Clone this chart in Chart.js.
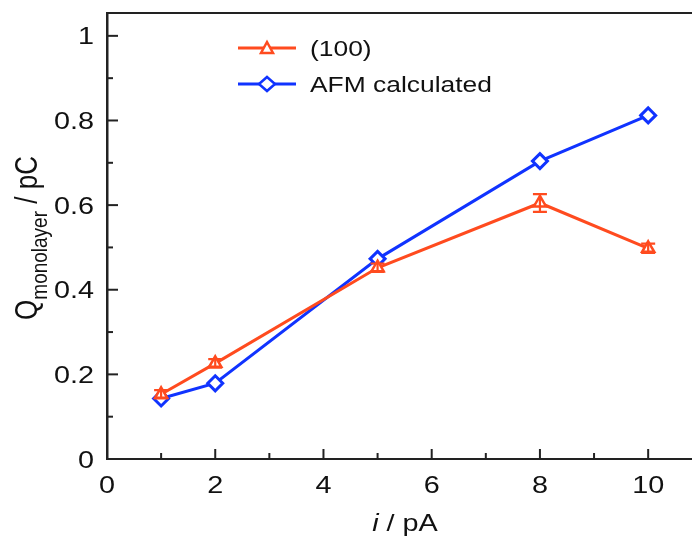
<!DOCTYPE html>
<html lang="en">
<head>
  <meta charset="UTF-8" />
  <title>Q monolayer vs current</title>
  <script src="https://cdn.jsdelivr.net/npm/chart.js"></script>
  <style>
    html, body { margin: 0; padding: 0; background: #fff; }
    #wrap { width: 692px; height: 537px; }
  </style>
</head>
<body>
  <div id="wrap"><canvas id="qChart" width="692" height="537"></canvas></div>

  <script>
    // data
    const currents = [1, 2, 5, 8, 10];
    const q100 = [0.153, 0.226, 0.452, 0.605, 0.498];
    const q100Err = [0.010, 0.010, 0.010, 0.021, 0.011];
    const qAfm = [0.143, 0.179, 0.473, 0.704, 0.812];
    const xTicks = [0, 2, 4, 6, 8, 10];
    const yTicks = [0, 0.2, 0.4, 0.6, 0.8, 1];
    const yTickLabels = ["0", "0.2", "0.4", "0.6", "0.8", "1"];
    const seriesNames = ["(100)", "AFM calculated"];

    const RED = "#ff4b1f";
    const BLUE = "#1033ff";
    const AXIS = "#222";
    const TEXT = "#111";
    const FONT = "'Liberation Sans', Arial, sans-serif";
    const SX = 1.2; // the original figure text is stretched sideways

    // draw text with the horizontal stretch of the original
    function wideText(ctx, str, x, y, font, align) {
      ctx.save();
      ctx.font = font;
      const w = ctx.measureText(str).width * SX;
      let left = x;
      if (align === "center") left = x - w / 2;
      if (align === "right") left = x - w;
      ctx.translate(left, y);
      ctx.scale(SX, 1);
      ctx.textAlign = "left";
      ctx.fillText(str, 0, 0);
      ctx.restore();
      return w;
    }

    const decor = {
      id: "decor",
      afterDatasetsDraw(chart) {
        const ctx = chart.ctx;
        const xs = chart.scales.x, ys = chart.scales.y;

        // error bars for (100)
        ctx.save();
        ctx.strokeStyle = RED;
        ctx.lineWidth = 2.2;
        currents.forEach((c, i) => {
          const px = xs.getPixelForValue(c);
          const top = ys.getPixelForValue(q100[i] + q100Err[i]);
          const bot = ys.getPixelForValue(q100[i] - q100Err[i]);
          ctx.beginPath();
          ctx.moveTo(px, top); ctx.lineTo(px, bot);
          ctx.moveTo(px - 7, top); ctx.lineTo(px + 7, top);
          ctx.moveTo(px - 7, bot); ctx.lineTo(px + 7, bot);
          ctx.stroke();
        });
        ctx.restore();
      },
      afterDraw(chart) {
        const ctx = chart.ctx;
        const xs = chart.scales.x, ys = chart.scales.y;
        const area = chart.chartArea;
        ctx.save();
        ctx.strokeStyle = AXIS;
        ctx.lineWidth = 2;

        // top frame
        ctx.beginPath();
        ctx.moveTo(area.left - 1, area.top);
        ctx.lineTo(chart.width, area.top);
        ctx.stroke();

        // x ticks (major + minor), pointing inward
        for (let v = 1; v <= 10; v++) {
          const px = xs.getPixelForValue(v);
          const len = v % 2 === 0 ? 10 : 6;
          ctx.beginPath();
          ctx.moveTo(px, area.bottom);
          ctx.lineTo(px, area.bottom - len);
          ctx.stroke();
        }
        // y ticks
        for (let k = 1; k <= 10; k++) {
          const py = ys.getPixelForValue(k / 10);
          const len = k % 2 === 0 ? 11 : 6;
          ctx.beginPath();
          ctx.moveTo(area.left, py);
          ctx.lineTo(area.left + len, py);
          ctx.stroke();
        }

        // tick labels
        ctx.fillStyle = TEXT;
        ctx.textBaseline = "alphabetic";
        const tickFont = "24px " + FONT;
        xTicks.forEach(v => {
          wideText(ctx, String(v), xs.getPixelForValue(v), area.bottom + 34, tickFont, "center");
        });
        yTicks.forEach((v, i) => {
          wideText(ctx, yTickLabels[i], area.left - 13, ys.getPixelForValue(v) + 8.5, tickFont, "right");
        });

        // legend
        const legendRows = [
          { y: 48, color: RED, style: "triangle", name: seriesNames[0] },
          { y: 84, color: BLUE, style: "diamond", name: seriesNames[1] }
        ];
        legendRows.forEach(r => {
          ctx.strokeStyle = r.color;
          ctx.lineWidth = 3;
          ctx.beginPath();
          ctx.moveTo(238, r.y); ctx.lineTo(296, r.y);
          ctx.stroke();
          ctx.fillStyle = "#fff";
          ctx.lineWidth = 2.5;
          ctx.beginPath();
          if (r.style === "triangle") {
            ctx.moveTo(267, r.y - 6); ctx.lineTo(273, r.y + 5); ctx.lineTo(261, r.y + 5);
          } else {
            ctx.moveTo(267, r.y - 7); ctx.lineTo(275, r.y); ctx.lineTo(267, r.y + 7); ctx.lineTo(259, r.y);
          }
          ctx.closePath();
          ctx.fill();
          ctx.stroke();
          ctx.fillStyle = TEXT;
          wideText(ctx, r.name, 310, r.y + 8, "22px " + FONT, "left");
        });

        // x title: italic i / pA
        ctx.fillStyle = TEXT;
        ctx.font = "italic 24px " + FONT;
        const iW = ctx.measureText("i").width * SX;
        ctx.font = "24px " + FONT;
        const restW = ctx.measureText(" / pA").width * SX;
        const sx = 405 - (iW + restW) / 2;
        wideText(ctx, "i", sx, 531, "italic 24px " + FONT, "left");
        wideText(ctx, " / pA", sx + iW, 531, "24px " + FONT, "left");

        // y title: Q_monolayer / pC, rotated (glyph height stretched like the rest)
        ctx.translate(37, 238);
        ctx.scale(SX, 1);
        ctx.rotate(-Math.PI / 2);
        ctx.textAlign = "left";
        ctx.font = "26px " + FONT;
        const qW = ctx.measureText("Q").width;
        const tailW = ctx.measureText(" / pC").width;
        ctx.font = "19px " + FONT;
        const subW = ctx.measureText("monolayer").width;
        const tx = -(qW + subW + tailW) / 2;
        ctx.font = "26px " + FONT;
        ctx.fillText("Q", tx, 0);
        ctx.font = "19px " + FONT;
        ctx.fillText("monolayer", tx + qW, 8);
        ctx.font = "26px " + FONT;
        ctx.fillText(" / pC", tx + qW + subW, 0);
        ctx.restore();
      }
    };

    new Chart(document.getElementById("qChart"), {
      type: "line",
      data: {
        datasets: [
          {
            label: seriesNames[0],
            data: currents.map((c, i) => ({ x: c, y: q100[i] })),
            borderColor: RED,
            backgroundColor: "#fff",
            borderWidth: 3,
            pointStyle: "triangle",
            pointRadius: 7,
            pointBorderWidth: 2.5,
            pointBackgroundColor: "#fff",
            tension: 0
          },
          {
            label: seriesNames[1],
            data: currents.map((c, i) => ({ x: c, y: qAfm[i] })),
            borderColor: BLUE,
            backgroundColor: "#fff",
            borderWidth: 3,
            pointStyle: "rectRot",
            pointRadius: 7.5,
            pointBorderWidth: 3,
            pointBackgroundColor: "#fff",
            tension: 0
          }
        ]
      },
      options: {
        responsive: false,
        animation: false,
        layout: { autoPadding: false, padding: { top: 13, right: 0, left: 0, bottom: 0 } },
        plugins: { legend: { display: false }, tooltip: { enabled: false } },
        scales: {
          x: {
            type: "linear",
            min: 0,
            max: 10.81,
            afterBuildTicks: s => { s.ticks = xTicks.map(v => ({ value: v })); },
            afterFit: s => { s.height = 78; },
            grid: { display: false },
            border: { display: true, color: AXIS, width: 2 },
            ticks: { display: false }
          },
          y: {
            min: 0,
            max: 1.054,
            afterBuildTicks: s => { s.ticks = yTicks.map(v => ({ value: v })); },
            afterFit: s => { s.width = 107; },
            grid: { display: false },
            border: { display: true, color: AXIS, width: 2.5 },
            ticks: { display: false }
          }
        }
      },
      plugins: [decor]
    });
  </script>
</body>
</html>
